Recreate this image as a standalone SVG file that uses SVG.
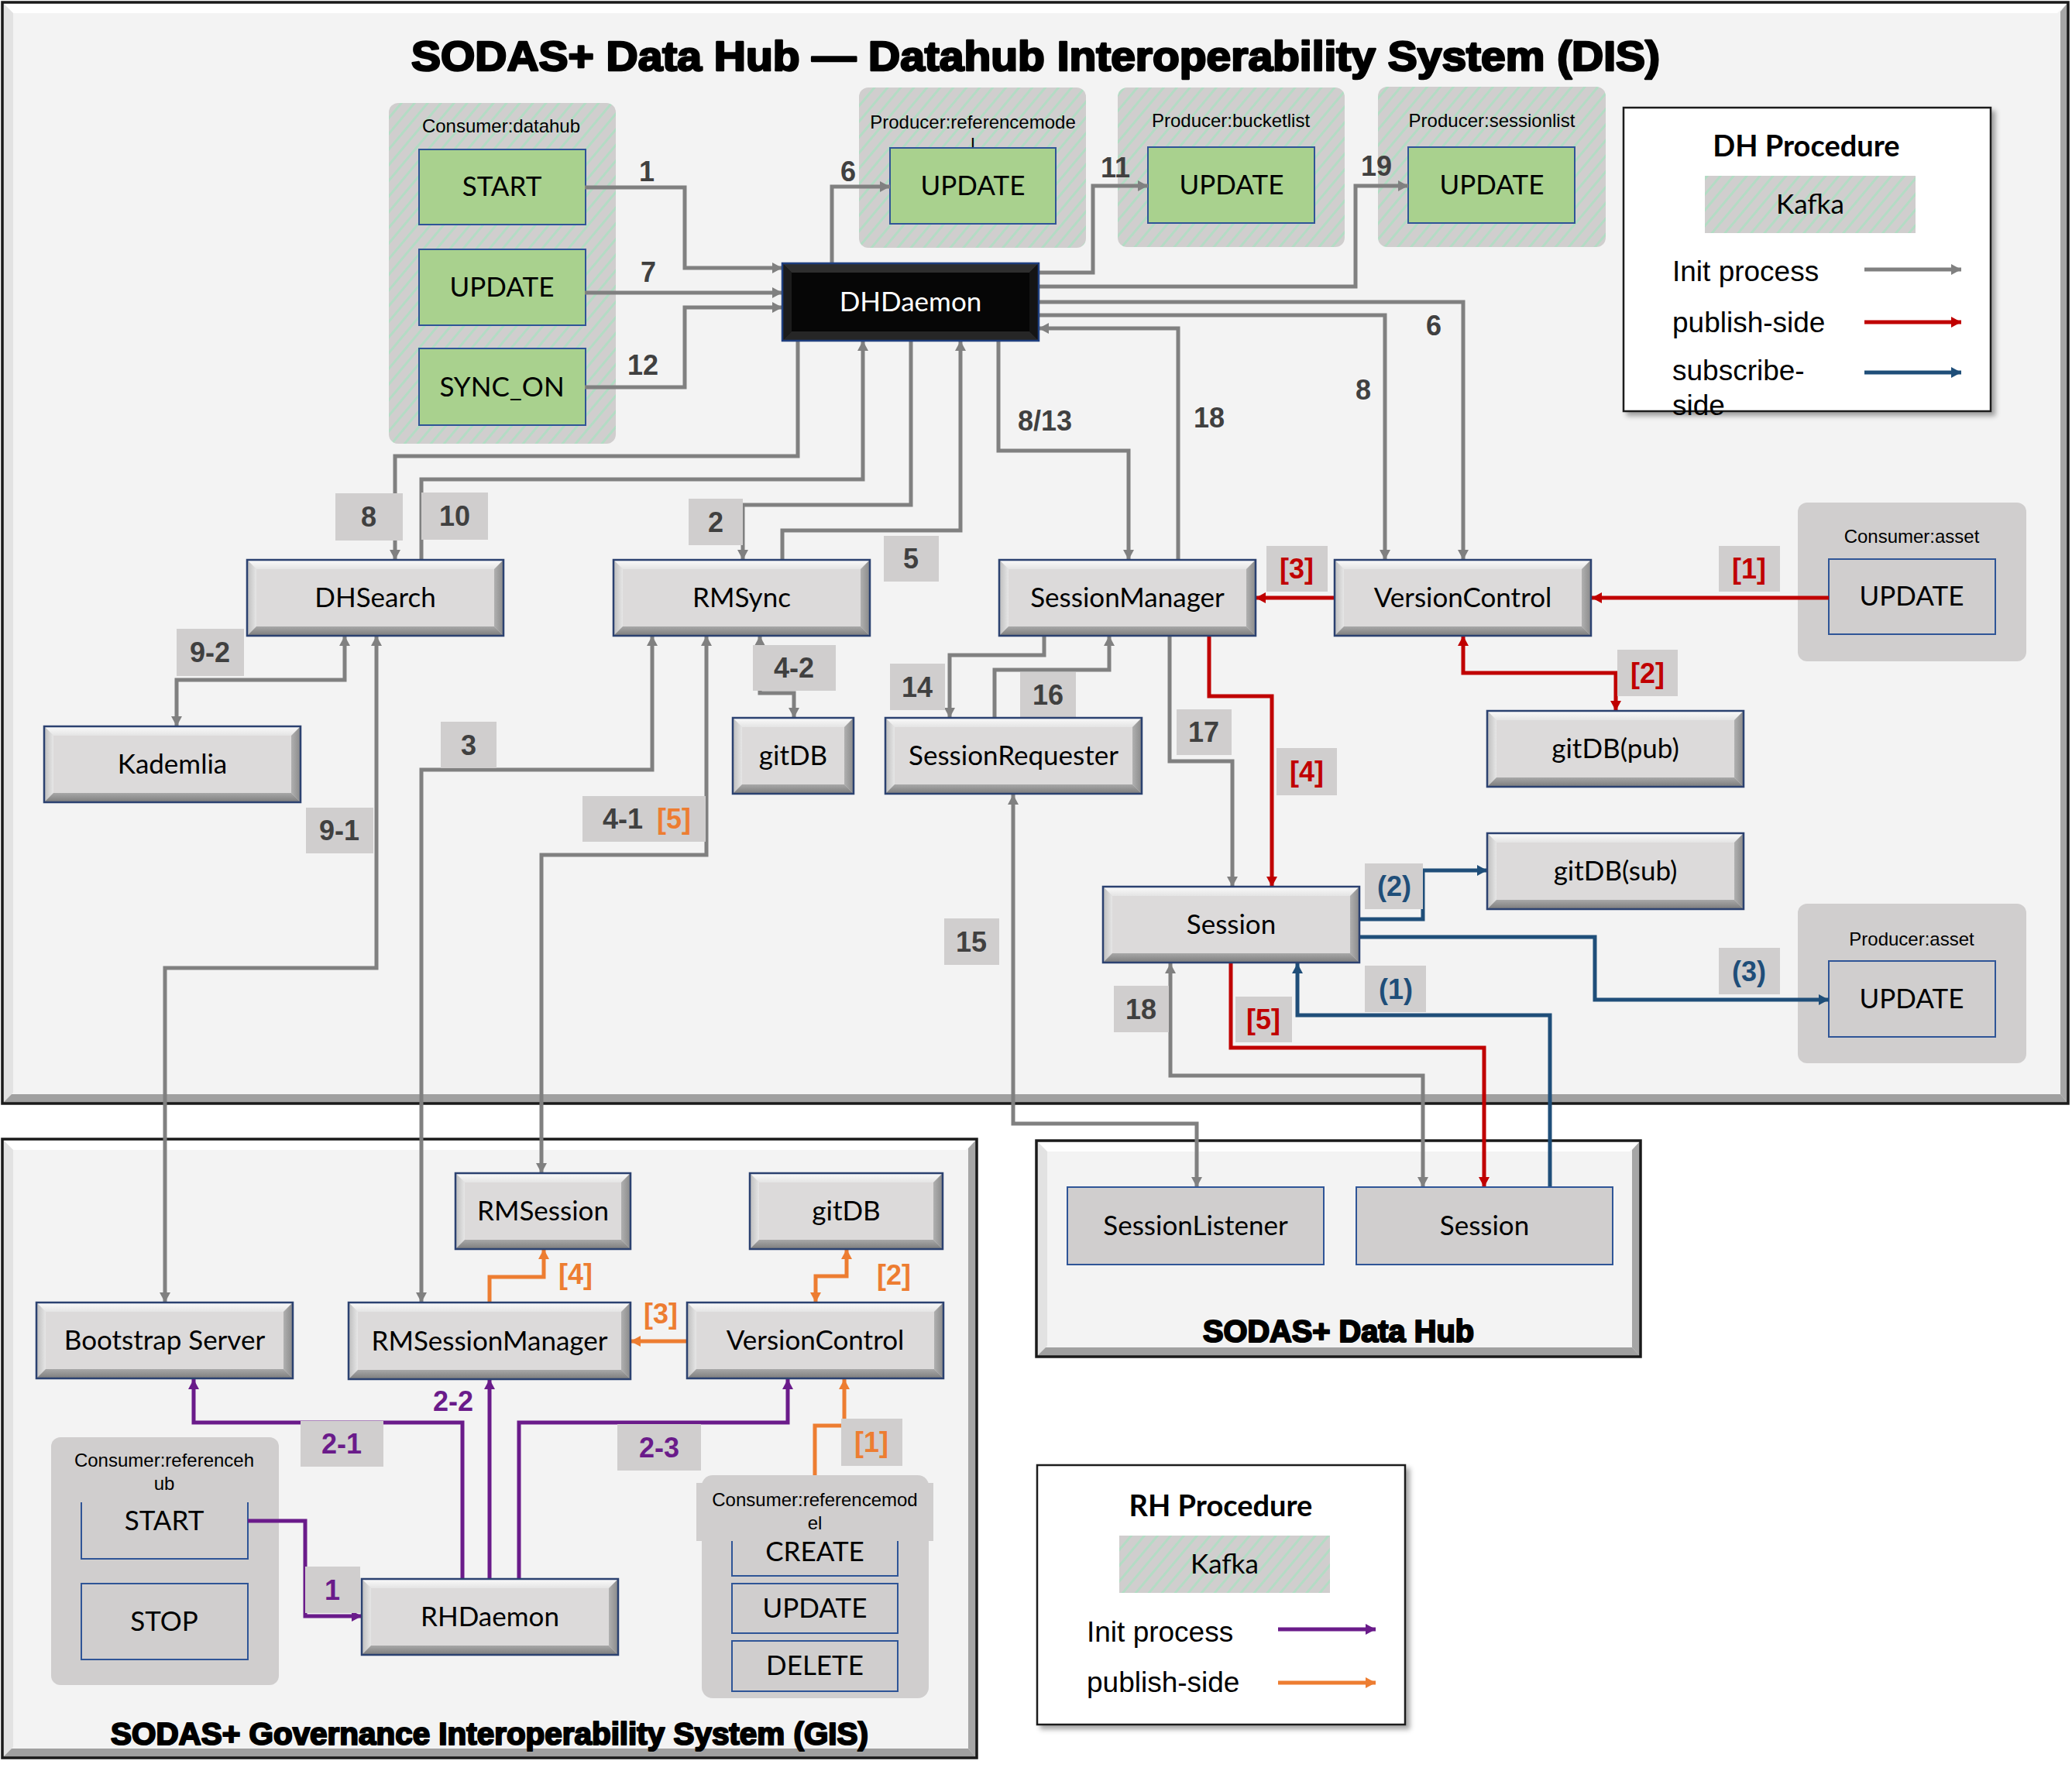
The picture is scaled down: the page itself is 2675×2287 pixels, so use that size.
<svg xmlns="http://www.w3.org/2000/svg" xmlns:xlink="http://www.w3.org/1999/xlink" width="2675" height="2287" viewBox="0 0 2675 2287">
<style>
.nt{font-family:Lato,"Open Sans",sans-serif;font-size:35px;fill:#000;text-anchor:middle}
.ntw{font-family:Lato,"Open Sans",sans-serif;font-size:35px;fill:#fff;text-anchor:middle}
.gt{font-family:"Liberation Sans",Arial,sans-serif;font-size:24px;fill:#000;text-anchor:middle}
.lbl{font-family:"Liberation Sans",Arial,sans-serif;font-weight:bold;font-size:36px;fill:#404040;text-anchor:middle}
.lgt{font-family:"Liberation Sans",Arial,sans-serif;font-size:37px;fill:#000}
.ttl{font-family:"Liberation Sans",Arial,sans-serif;font-weight:bold;fill:#000;stroke:#000;stroke-linejoin:round}
.lb{fill:#d0cece}
.red{fill:#c00000}.blu{fill:#1f4e79}.org{fill:#ed7d31}.pur{fill:#6a1b8a}
.c{fill:none;stroke-width:5}
.cg{stroke:#808080;marker-end:url(#ag)}
.cr{stroke:#c00000;marker-end:url(#ar)}
.cb{stroke:#1f4e79;marker-end:url(#ab)}
.co{stroke:#ed7d31;marker-end:url(#ao)}
.cp{stroke:#6a1b8a;marker-end:url(#ap)}
.bt{fill:url(#gTop)}.bl{fill:url(#gLeft)}.br{fill:url(#gRight)}.bb{fill:url(#gBot)}
.nf{fill:#dcdada}
.bd{fill:none;stroke:#2b4170;stroke-width:2.5}
.grp{fill:url(#hatch)}
.gbox{fill:#a9d18e;stroke:#2f5597;stroke-width:2}
.pbox{fill:#d0cece;stroke:#2f5597;stroke-width:2}
.obox{fill:none;stroke:#2f5597;stroke-width:2}
</style>
<defs>
<pattern id="hatch" patternUnits="userSpaceOnUse" width="13" height="13" patternTransform="rotate(40)">
<rect width="13" height="13" fill="#d0cece"/>
<rect width="3" height="13" fill="#b3dcc4"/>
</pattern>
<linearGradient id="gTop" x1="0" y1="0" x2="0" y2="1"><stop offset="0" stop-color="#fbfbfb"/><stop offset="1" stop-color="#e4e4e4"/></linearGradient>
<linearGradient id="gBot" x1="0" y1="0" x2="0" y2="1"><stop offset="0" stop-color="#a8a8a8"/><stop offset="1" stop-color="#7c7c7c"/></linearGradient>
<linearGradient id="gLeft" x1="0" y1="0" x2="1" y2="0"><stop offset="0" stop-color="#bdbdbd"/><stop offset="1" stop-color="#e6e6e6"/></linearGradient>
<linearGradient id="gRight" x1="0" y1="0" x2="1" y2="0"><stop offset="0" stop-color="#b0b0b0"/><stop offset="1" stop-color="#8a8a8a"/></linearGradient>
<filter id="sh" x="-5%" y="-5%" width="115%" height="115%"><feDropShadow dx="5" dy="5" stdDeviation="3" flood-color="#000" flood-opacity="0.35"/></filter>
<marker id="ag" markerUnits="userSpaceOnUse" markerWidth="14" markerHeight="14" refX="13" refY="7" orient="auto-start-reverse"><path d="M0,0 L13,7 L0,14 Z" fill="#808080"/></marker>
<marker id="ar" markerUnits="userSpaceOnUse" markerWidth="14" markerHeight="14" refX="13" refY="7" orient="auto-start-reverse"><path d="M0,0 L13,7 L0,14 Z" fill="#c00000"/></marker>
<marker id="ab" markerUnits="userSpaceOnUse" markerWidth="14" markerHeight="14" refX="13" refY="7" orient="auto-start-reverse"><path d="M0,0 L13,7 L0,14 Z" fill="#1f4e79"/></marker>
<marker id="ao" markerUnits="userSpaceOnUse" markerWidth="14" markerHeight="14" refX="13" refY="7" orient="auto-start-reverse"><path d="M0,0 L13,7 L0,14 Z" fill="#ed7d31"/></marker>
<marker id="ap" markerUnits="userSpaceOnUse" markerWidth="14" markerHeight="14" refX="13" refY="7" orient="auto-start-reverse"><path d="M0,0 L13,7 L0,14 Z" fill="#6a1b8a"/></marker>
<g id="bev331">
<rect class="nf" width="331" height="98"/>
<path class="bt" d="M0,0 H331 L319,12 H12 Z"/>
<path class="bl" d="M0,0 L12,12 V86 L0,98 Z"/>
<path class="br" d="M331,0 V98 L319,86 V12 Z"/>
<path class="bb" d="M0,98 L12,86 H319 L331,98 Z"/>
<rect class="bd" width="331" height="98"/>
</g>
</defs>

<rect width="2675" height="2287" fill="#fff"/>

<!-- Frames -->
<g id="frame-dis">
<rect x="3" y="3" width="2667" height="1422" fill="#f3f3f3"/>
<path d="M3,3 H2670 L2656,17 H17 Z" fill="#ffffff"/>
<path d="M3,3 L17,17 V1411 L3,1425 Z" fill="#e2e2e2"/>
<path d="M2670,3 V1425 L2660,1413 V15 Z" fill="#a6a6a6"/>
<path d="M3,1425 L15,1413 H2660 L2670,1425 Z" fill="#a0a0a0"/>
<rect x="3" y="3" width="2667" height="1422" fill="none" stroke="#1a1a1a" stroke-width="3.5"/>
<text class="ttl" x="531" y="91" font-size="54" stroke-width="2.6" textLength="1612" lengthAdjust="spacingAndGlyphs">SODAS+ Data Hub — Datahub Interoperability System (DIS)</text>
</g>
<g id="frame-gis">
<rect x="3" y="1471" width="1258" height="799" fill="#f3f3f3"/>
<path d="M3,1471 H1261 L1247,1485 H17 Z" fill="#ffffff"/>
<path d="M3,1471 L17,1485 V2256 L3,2270 Z" fill="#e2e2e2"/>
<path d="M1261,1471 V2270 L1250,2258 V1483 Z" fill="#a6a6a6"/>
<path d="M3,2270 L15,2258 H1250 L1261,2270 Z" fill="#a0a0a0"/>
<rect x="3" y="1471" width="1258" height="799" fill="none" stroke="#1a1a1a" stroke-width="3.5"/>
<text class="ttl" x="143" y="2253" font-size="40" stroke-width="2.2" textLength="978" lengthAdjust="spacingAndGlyphs">SODAS+ Governance Interoperability System (GIS)</text>
</g>
<g id="frame-dh">
<rect x="1338" y="1473" width="780" height="279" fill="#f3f3f3"/>
<path d="M1338,1473 H2118 L2104,1487 H1352 Z" fill="#ffffff"/>
<path d="M1338,1473 L1352,1487 V1738 L1338,1752 Z" fill="#e2e2e2"/>
<path d="M2118,1473 V1752 L2107,1740 V1485 Z" fill="#a6a6a6"/>
<path d="M1338,1752 L1350,1740 H2107 L2118,1752 Z" fill="#a0a0a0"/>
<rect x="1338" y="1473" width="780" height="279" fill="none" stroke="#1a1a1a" stroke-width="3.5"/>
<text class="ttl" x="1553" y="1733" font-size="40" stroke-width="2.2" textLength="350" lengthAdjust="spacingAndGlyphs">SODAS+ Data Hub</text>
</g>

<!-- Kafka groups -->
<g id="grp-consumer-datahub">
<rect class="grp" x="502" y="133" width="293" height="440" rx="12"/>
<text class="gt" x="647" y="171">Consumer:datahub</text>
<rect class="gbox" x="541" y="193" width="215" height="97"/><text class="nt" x="648" y="253">START</text>
<rect class="gbox" x="541" y="322" width="215" height="98"/><text class="nt" x="648" y="383">UPDATE</text>
<rect class="gbox" x="541" y="450" width="215" height="99"/><text class="nt" x="648" y="512">SYNC_ON</text>
</g>
<g id="grp-producer-referencemodel">
<rect class="grp" x="1109" y="113" width="293" height="207" rx="12"/>
<text class="gt" x="1256" y="166">Producer:referencemode</text>
<text class="gt" x="1256" y="195">l</text>
<rect class="gbox" x="1149" y="191" width="214" height="98"/><text class="nt" x="1256" y="252">UPDATE</text>
</g>
<g id="grp-producer-bucketlist">
<rect class="grp" x="1443" y="113" width="293" height="206" rx="12"/>
<text class="gt" x="1589" y="164">Producer:bucketlist</text>
<rect class="gbox" x="1482" y="190" width="215" height="98"/><text class="nt" x="1590" y="251">UPDATE</text>
</g>
<g id="grp-producer-sessionlist">
<rect class="grp" x="1779" y="112" width="294" height="207" rx="12"/>
<text class="gt" x="1926" y="164">Producer:sessionlist</text>
<rect class="gbox" x="1818" y="190" width="215" height="98"/><text class="nt" x="1926" y="251">UPDATE</text>
</g>
<g id="grp-consumer-asset">
<rect class="lb" x="2321" y="649" width="295" height="205" rx="12"/>
<text class="gt" x="2468" y="701">Consumer:asset</text>
<rect class="obox" x="2361" y="722" width="215" height="97"/><text class="nt" x="2468" y="782">UPDATE</text>
</g>
<g id="grp-producer-asset">
<rect class="lb" x="2321" y="1167" width="295" height="206" rx="12"/>
<text class="gt" x="2468" y="1221">Producer:asset</text>
<rect class="obox" x="2361" y="1241" width="215" height="98"/><text class="nt" x="2468" y="1302">UPDATE</text>
</g>
<g id="grp-consumer-referencehub">
<rect class="lb" x="66" y="1856" width="294" height="320" rx="12"/>
<text class="gt" x="212" y="1894">Consumer:referenceh</text>
<text class="gt" x="212" y="1924">ub</text>
<path class="obox" d="M105,1940 V2013 H320 V1940"/><text class="nt" x="212" y="1976">START</text>
<rect class="obox" x="105" y="2045" width="215" height="98"/><text class="nt" x="212" y="2106">STOP</text>
</g>
<g id="grp-consumer-referencemodel">
<rect class="lb" x="906" y="1905" width="293" height="288" rx="14"/>
<rect class="lb" x="899" y="1915" width="306" height="75"/>
<text class="gt" x="1052" y="1945">Consumer:referencemod</text>
<text class="gt" x="1052" y="1975">el</text>
<path class="obox" d="M945,1990 V2035 H1159 V1990"/><text class="nt" x="1052" y="2016">CREATE</text>
<rect class="obox" x="945" y="2045" width="214" height="64"/><text class="nt" x="1052" y="2089">UPDATE</text>
<rect class="obox" x="945" y="2119" width="214" height="65"/><text class="nt" x="1052" y="2163">DELETE</text>
</g>

<!-- Connectors -->
<g id="connectors">
<path class="c cg" d="M755,242 H884 V346 H1010"/>
<path class="c cg" d="M755,378 H1010"/>
<path class="c cg" d="M755,500 H884 V397 H1010"/>
<path class="c cg" d="M1074,340 V241 H1149"/>
<path class="c cg" d="M1341,352 H1411 V240 H1482"/>
<path class="c cg" d="M1341,370 H1750 V240 H1818"/>
<path class="c cg" d="M1341,390 H1889 V723"/>
<path class="c cg" d="M1341,407 H1788 V723"/>
<path class="c cg" d="M1521,723 V424 H1341"/>
<path class="c cg" d="M1289,440 V582 H1457 V723"/>
<path class="c cg" d="M1030,440 V589 H510 V723"/>
<path class="c cg" d="M544,723 V619 H1114 V440"/>
<path class="c cg" d="M1176,440 V652 H959 V723"/>
<path class="c cg" d="M1010,723 V685 H1240 V440"/>
<path class="c cg" d="M445,821 V878 H228 V938" marker-start="url(#ag)"/>
<path class="c cg" d="M486,821 V1250 H213 V1682" marker-start="url(#ag)"/>
<path class="c cg" d="M842,821 V994 H544 V1682" marker-start="url(#ag)"/>
<path class="c cg" d="M912,821 V1104 H699 V1515" marker-start="url(#ag)"/>
<path class="c cg" d="M981,821 V895 H1025 V927" marker-start="url(#ag)"/>
<path class="c cg" d="M1348,821 V846 H1226 V927"/>
<path class="c cg" d="M1284,927 V865 H1432 V821"/>
<path class="c cg" d="M1510,821 V983 H1591 V1145"/>
<path class="c cg" d="M1308,1026 V1451 H1545 V1533" marker-start="url(#ag)"/>
<path class="c cg" d="M1511,1244 V1389 H1837 V1533" marker-start="url(#ag)"/>
<path class="c cr" d="M1561,821 V899 H1642 V1145"/>
<path class="c cr" d="M1723,772 H1621"/>
<path class="c cr" d="M2361,772 H2055"/>
<path class="c cr" d="M1889,821 V869 H2086 V918" marker-start="url(#ar)"/>
<path class="c cr" d="M1589,1244 V1353 H1916 V1533"/>
<path class="c cb" d="M2001,1533 V1311 H1675 V1244"/>
<path class="c cb" d="M1755,1187 H1837 V1124 H1920"/>
<path class="c cb" d="M1755,1210 H2059 V1291 H2361"/>
<path class="c co" d="M632,1682 V1649 H702 V1613"/>
<path class="c co" d="M887,1732 H814"/>
<path class="c co" d="M1053,1682 V1648 H1093 V1613" marker-start="url(#ao)"/>
<path class="c co" d="M1052,1905 V1841 H1090 V1781"/>
<path class="c cp" d="M597,2039 V1837 H250 V1781"/>
<path class="c cp" d="M632,2039 V1781"/>
<path class="c cp" d="M670,2039 V1837 H1017 V1781"/>
<path class="c cp" d="M320,1964 H394 V2087 H467"/>
</g>

<!-- Connector labels -->
<g id="labels">
<text class="lbl" x="835" y="234">1</text>
<text class="lbl" x="837" y="364">7</text>
<text class="lbl" x="830" y="484">12</text>
<text class="lbl" x="1095" y="234">6</text>
<text class="lbl" x="1440" y="229">11</text>
<text class="lbl" x="1777" y="227">19</text>
<text class="lbl" x="1851" y="433">6</text>
<text class="lbl" x="1760" y="516">8</text>
<text class="lbl" x="1561" y="552">18</text>
<text class="lbl" x="1349" y="556">8/13</text>
<rect class="lb" x="433" y="637" width="87" height="61"/><text class="lbl" x="476" y="680">8</text>
<rect class="lb" x="544" y="636" width="86" height="61"/><text class="lbl" x="587" y="679">10</text>
<rect class="lb" x="889" y="644" width="70" height="60"/><text class="lbl" x="924" y="687">2</text>
<rect class="lb" x="1141" y="692" width="71" height="59"/><text class="lbl" x="1176" y="734">5</text>
<rect class="lb" x="228" y="812" width="87" height="61"/><text class="lbl" x="271" y="855">9-2</text>
<rect class="lb" x="972" y="833" width="107" height="59"/><text class="lbl" x="1025" y="875">4-2</text>
<rect class="lb" x="1149" y="857" width="71" height="60"/><text class="lbl" x="1184" y="900">14</text>
<rect class="lb" x="1317" y="868" width="72" height="58"/><text class="lbl" x="1353" y="910">16</text>
<rect class="lb" x="1519" y="916" width="71" height="59"/><text class="lbl" x="1554" y="958">17</text>
<rect class="lb" x="1648" y="966" width="78" height="61"/><text class="lbl red" x="1687" y="1009">[4]</text>
<rect class="lb" x="1635" y="705" width="79" height="59"/><text class="lbl red" x="1674" y="747">[3]</text>
<rect class="lb" x="2219" y="705" width="79" height="59"/><text class="lbl red" x="2258" y="747">[1]</text>
<rect class="lb" x="2088" y="839" width="78" height="60"/><text class="lbl red" x="2127" y="882">[2]</text>
<rect class="lb" x="569" y="932" width="72" height="60"/><text class="lbl" x="605" y="975">3</text>
<rect class="lb" x="395" y="1043" width="87" height="59"/><text class="lbl" x="438" y="1085">9-1</text>
<rect class="lb" x="752" y="1028" width="159" height="59"/><text class="lbl" x="804" y="1070">4-1</text><text class="lbl org" x="870" y="1070">[5]</text>
<rect class="lb" x="1219" y="1186" width="71" height="60"/><text class="lbl" x="1254" y="1229">15</text>
<rect class="lb" x="1762" y="1115" width="75" height="59"/><text class="lbl blu" x="1800" y="1157">(2)</text>
<rect class="lb" x="1762" y="1247" width="79" height="60"/><text class="lbl blu" x="1802" y="1290">(1)</text>
<rect class="lb" x="2219" y="1224" width="79" height="60"/><text class="lbl blu" x="2258" y="1267">(3)</text>
<rect class="lb" x="1438" y="1273" width="71" height="60"/><text class="lbl" x="1473" y="1316">18</text>
<rect class="lb" x="1595" y="1287" width="73" height="59"/><text class="lbl red" x="1631" y="1329">[5]</text>
<text class="lbl org" x="743" y="1658">[4]</text>
<text class="lbl org" x="853" y="1709">[3]</text>
<text class="lbl org" x="1154" y="1659">[2]</text>
<rect class="lb" x="1086" y="1832" width="79" height="61"/><text class="lbl org" x="1125" y="1875">[1]</text>
<rect class="lb" x="388" y="1835" width="107" height="59"/><text class="lbl pur" x="441" y="1877">2-1</text>
<text class="lbl pur" x="585" y="1822">2-2</text>
<rect class="lb" x="797" y="1839" width="108" height="60"/><text class="lbl pur" x="851" y="1882">2-3</text>
<rect class="lb" x="394" y="2023" width="71" height="60"/><text class="lbl pur" x="429" y="2066">1</text>
</g>

<!-- Nodes -->
<g id="node-dhdaemon">
<rect x="1010" y="340" width="331" height="100" fill="#060606"/>
<path d="M1010,340 H1341 L1329,352 H1022 Z" fill="#2e2e2e"/>
<path d="M1010,340 L1022,352 V428 L1010,440 Z" fill="#1c1c1c"/>
<path d="M1341,340 V440 L1329,428 V352 Z" fill="#141414"/>
<path d="M1010,440 L1022,428 H1329 L1341,440 Z" fill="#262626"/>
<rect x="1010" y="340" width="331" height="100" fill="none" stroke="#1f3f7f" stroke-width="2.5"/>
<text class="ntw" x="1175.5" y="402">DHDaemon</text>
</g>
<g id="node-dhsearch"><use href="#bev331" x="319" y="723"/><text class="nt" x="484.5" y="784">DHSearch</text></g>
<g id="node-rmsync"><use href="#bev331" x="792" y="723"/><text class="nt" x="957.5" y="784">RMSync</text></g>
<g id="node-sessionmanager"><use href="#bev331" x="1290" y="723"/><text class="nt" x="1455.5" y="784">SessionManager</text></g>
<g id="node-versioncontrol"><use href="#bev331" x="1723" y="723"/><text class="nt" x="1888.5" y="784">VersionControl</text></g>
<g id="node-kademlia"><use href="#bev331" x="57" y="938"/><text class="nt" x="222.5" y="999">Kademlia</text></g>
<g id="node-gitdb">
<g transform="translate(946,927)">
<rect class="nf" width="156" height="98"/>
<path class="bt" d="M0,0 H156 L144,12 H12 Z"/>
<path class="bl" d="M0,0 L12,12 V86 L0,98 Z"/>
<path class="br" d="M156,0 V98 L144,86 V12 Z"/>
<path class="bb" d="M0,98 L12,86 H144 L156,98 Z"/>
<rect class="bd" width="156" height="98"/>
</g>
<text class="nt" x="1024" y="988">gitDB</text>
</g>
<g id="node-sessionrequester"><use href="#bev331" x="1143" y="927"/><text class="nt" x="1308.5" y="988">SessionRequester</text></g>
<g id="node-gitdb-pub"><use href="#bev331" x="1920" y="918"/><text class="nt" x="2085.5" y="979">gitDB(pub)</text></g>
<g id="node-gitdb-sub"><use href="#bev331" x="1920" y="1076"/><text class="nt" x="2085.5" y="1137">gitDB(sub)</text></g>
<g id="node-session"><use href="#bev331" x="1424" y="1145"/><text class="nt" x="1589.5" y="1206">Session</text></g>
<g id="node-sessionlistener"><rect class="pbox" x="1378" y="1533" width="331" height="100"/><text class="nt" x="1543.5" y="1595">SessionListener</text></g>
<g id="node-session-dh"><rect class="pbox" x="1751" y="1533" width="331" height="100"/><text class="nt" x="1916.5" y="1595">Session</text></g>
<g id="node-bootstrap"><use href="#bev331" x="47" y="1682"/><text class="nt" x="212.5" y="1743">Bootstrap Server</text></g>
<g id="node-rmsessionmanager">
<g transform="translate(450,1682)">
<rect class="nf" width="364" height="99"/>
<path class="bt" d="M0,0 H364 L352,12 H12 Z"/>
<path class="bl" d="M0,0 L12,12 V87 L0,99 Z"/>
<path class="br" d="M364,0 V99 L352,87 V12 Z"/>
<path class="bb" d="M0,99 L12,87 H352 L364,99 Z"/>
<rect class="bd" width="364" height="99"/>
</g>
<text class="nt" x="632" y="1744">RMSessionManager</text>
</g>
<g id="node-rmsession">
<g transform="translate(588,1515)">
<rect class="nf" width="226" height="98"/>
<path class="bt" d="M0,0 H226 L214,12 H12 Z"/>
<path class="bl" d="M0,0 L12,12 V86 L0,98 Z"/>
<path class="br" d="M226,0 V98 L214,86 V12 Z"/>
<path class="bb" d="M0,98 L12,86 H214 L226,98 Z"/>
<rect class="bd" width="226" height="98"/>
</g>
<text class="nt" x="701" y="1576">RMSession</text>
</g>
<g id="node-gitdb-gis">
<g transform="translate(968,1515)">
<rect class="nf" width="249" height="98"/>
<path class="bt" d="M0,0 H249 L237,12 H12 Z"/>
<path class="bl" d="M0,0 L12,12 V86 L0,98 Z"/>
<path class="br" d="M249,0 V98 L237,86 V12 Z"/>
<path class="bb" d="M0,98 L12,86 H237 L249,98 Z"/>
<rect class="bd" width="249" height="98"/>
</g>
<text class="nt" x="1092.5" y="1576">gitDB</text>
</g>
<g id="node-versioncontrol-gis"><use href="#bev331" x="887" y="1682"/><text class="nt" x="1052.5" y="1743">VersionControl</text></g>
<g id="node-rhdaemon"><use href="#bev331" x="467" y="2039"/><text class="nt" x="632.5" y="2100">RHDaemon</text></g>

<!-- Legends -->
<g id="legend-dh">
<rect x="2096" y="139" width="474" height="392" fill="#fff" stroke="#1a1a1a" stroke-width="2.5" filter="url(#sh)"/>
<text x="2332" y="202" font-family="Lato,'Open Sans',sans-serif" font-weight="bold" font-size="38" text-anchor="middle">DH Procedure</text>
<rect class="grp" x="2201" y="227" width="272" height="74"/>
<text class="nt" x="2337" y="276">Kafka</text>
<text class="lgt" x="2159" y="363">Init process</text>
<text class="lgt" x="2159" y="429">publish-side</text>
<text class="lgt" x="2159" y="491">subscribe-</text>
<text class="lgt" x="2159" y="536">side</text>
<path class="c cg" d="M2407,348 H2532"/>
<path class="c cr" d="M2407,416 H2532"/>
<path class="c cb" d="M2407,481 H2532"/>
</g>
<g id="legend-rh">
<rect x="1339" y="1892" width="475" height="335" fill="#fff" stroke="#1a1a1a" stroke-width="2.5" filter="url(#sh)"/>
<text x="1576" y="1958" font-family="Lato,'Open Sans',sans-serif" font-weight="bold" font-size="38" text-anchor="middle">RH Procedure</text>
<rect class="grp" x="1445" y="1983" width="272" height="74"/>
<text class="nt" x="1581" y="2032">Kafka</text>
<text class="lgt" x="1403" y="2120">Init process</text>
<text class="lgt" x="1403" y="2185">publish-side</text>
<path class="c cp" d="M1650,2104 H1776"/>
<path class="c co" d="M1650,2173 H1776"/>
</g>
</svg>
